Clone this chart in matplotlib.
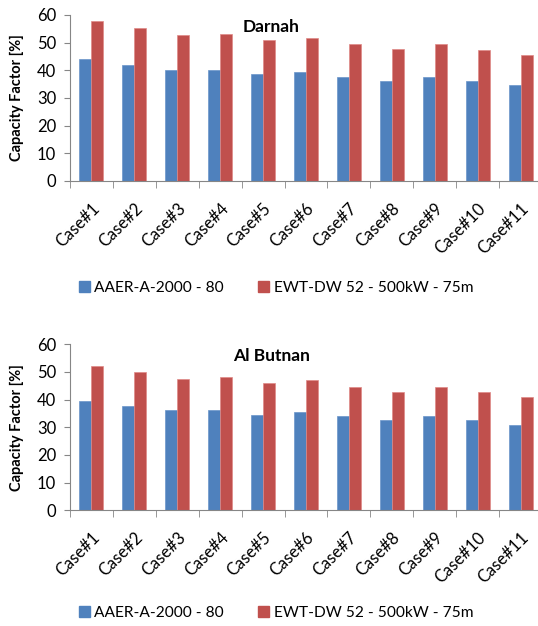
import numpy as np
import matplotlib.pyplot as plt
from matplotlib.patches import Patch

plt.rcParams['font.family'] = ['Lato', 'DejaVu Sans']

cases = ['Case#1', 'Case#2', 'Case#3', 'Case#4', 'Case#5', 'Case#6',
         'Case#7', 'Case#8', 'Case#9', 'Case#10', 'Case#11']
series_names = ['AAER-A-2000 - 80', 'EWT-DW 52 - 500kW - 75m']

darnah_aaer = [44.0, 42.0, 40.2, 40.2, 38.8, 39.5, 37.6, 36.1, 37.6, 36.1, 34.7]
darnah_ewt = [57.7, 55.4, 52.9, 53.2, 51.0, 51.7, 49.6, 47.7, 49.6, 47.2, 45.4]

butnan_aaer = [39.5, 37.6, 36.1, 36.1, 34.6, 35.4, 34.0, 32.5, 34.0, 32.5, 30.8]
butnan_ewt = [52.0, 49.9, 47.6, 48.1, 45.9, 47.0, 44.6, 42.8, 44.6, 42.8, 41.0]

BLUE = '#4F81BD'
RED = '#C0504D'
AXIS_GREY = '#868686'


def build_chart(fig, rect, title, aaer, ewt, legend_y):
    ax = fig.add_axes(rect)
    x = np.arange(len(cases))
    w = 0.28
    ax.bar(x - w / 2, aaer, w, color=BLUE, edgecolor='#6a95c9', linewidth=0.5)
    ax.bar(x + w / 2, ewt, w, color=RED, edgecolor='#e08a88', linewidth=0.5)

    ax.set_xlim(-0.5, len(cases) - 0.5)
    ax.set_ylim(0, 60)
    ax.set_yticks(np.arange(0, 61, 10))
    ax.tick_params(axis='y', labelsize=12, length=4, color=AXIS_GREY, pad=6)

    # category labels in the middle, tick marks between categories
    ax.set_xticks(x)
    ax.set_xticklabels(cases, rotation=45, ha='right', va='top',
                       rotation_mode='anchor', fontsize=12)
    ax.tick_params(axis='x', which='major', length=0, pad=14)
    ax.set_xticks(np.arange(-0.5, len(cases), 1.0), minor=True)
    ax.tick_params(axis='x', which='minor', length=5, color=AXIS_GREY)

    ax.spines['top'].set_visible(False)
    ax.spines['right'].set_visible(False)
    ax.spines['left'].set_color(AXIS_GREY)
    ax.spines['bottom'].set_color(AXIS_GREY)

    ax.set_ylabel('Capacity Factor [%]', fontsize=10.5, fontweight='bold', labelpad=9)
    ax.text(0.426, 0.975, title, transform=ax.transAxes, ha='center', va='top',
            fontsize=12.5, fontweight='bold')

    handles = [Patch(color=BLUE), Patch(color=RED)]
    fig.legend(handles, series_names, loc='center', bbox_to_anchor=(0.513, legend_y),
               ncol=2, frameon=False, fontsize=11.2, handlelength=0.7,
               handleheight=0.7, handletextpad=0.3, columnspacing=2.2)
    return ax


fig = plt.figure(figsize=(5.38, 6.26), dpi=100)
build_chart(fig, [0.1301, 0.7109, 0.8773, 0.2652], 'Darnah',
            darnah_aaer, darnah_ewt, 1 - 288 / 626)
build_chart(fig, [0.1301, 0.1848, 0.8773, 0.2652], 'Al Butnan',
            butnan_aaer, butnan_ewt, 1 - 613 / 626)

fig.savefig('out.png', dpi=100)
